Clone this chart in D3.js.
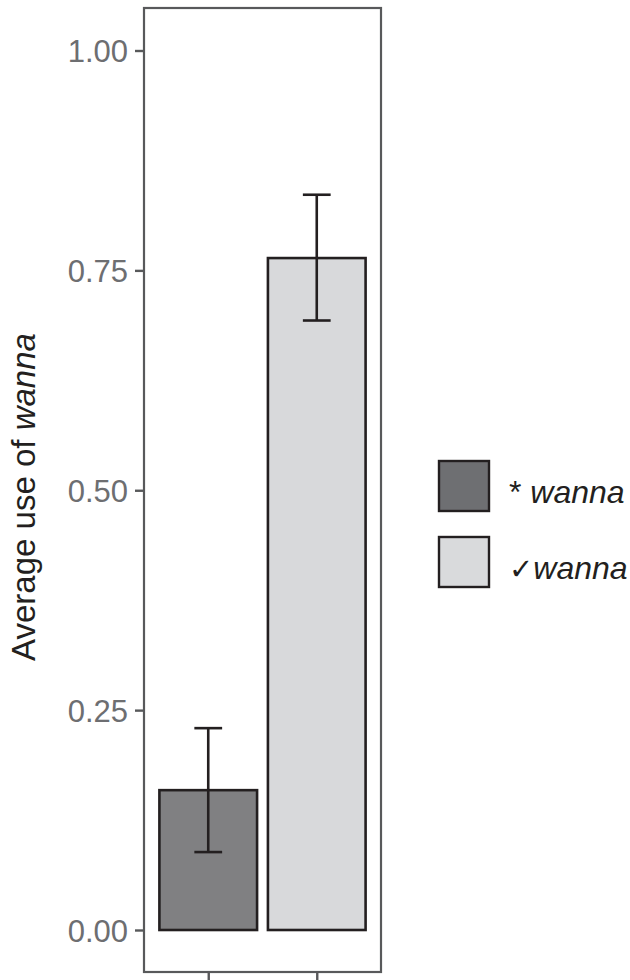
<!DOCTYPE html>
<html>
<head>
<meta charset="utf-8">
<script src="https://cdn.jsdelivr.net/npm/d3@7"></script>
<style>
  html, body { margin: 0; padding: 0; background: #fff; }
  svg { display: block; }
</style>
</head>
<body>
<svg id="chart" width="630" height="980"></svg>
<script>
// ---- data ----
const categories = ["star", "check"];
const means = [0.159, 0.764];
const lowers = [0.0886, 0.693];
const uppers = [0.2295, 0.836];
const yTicks = [0, 0.25, 0.5, 0.75, 1.0];
const legendLabels = [["* ", "wanna"], ["\u2713", "wanna"]];
const barFills = ["#808082", "#d8d9db"];
const keyFills = ["#6e6f72", "#d9dadc"];

const svg = d3.select("#chart");
const panel = { left: 144, right: 381, top: 8, bottom: 972 };

const x = d3.scalePoint().domain(categories).range([panel.left, panel.right]).padding(0.592);
const step = x.step();
const y = d3.scaleLinear().domain([0, 1]).range([930, 50.5]);

const ink = "#231f20";
const axisGrey = "#58595b";

// bars
svg.append("g").selectAll("rect").data(categories).join("rect")
  .attr("x", (d) => x(d) - step * 0.45)
  .attr("width", step * 0.9)
  .attr("y", (d, i) => y(means[i]))
  .attr("height", (d, i) => y(0) - y(means[i]))
  .attr("fill", (d, i) => barFills[i])
  .attr("stroke", ink)
  .attr("stroke-width", 2.6);

// error bars
const eg = svg.append("g").attr("stroke", ink).attr("stroke-width", 2.6).attr("fill", "none");
categories.forEach((c, i) => {
  const cx = x(c), hw = step * 0.128;
  eg.append("line").attr("x1", cx).attr("x2", cx).attr("y1", y(lowers[i])).attr("y2", y(uppers[i]));
  eg.append("line").attr("x1", cx - hw).attr("x2", cx + hw).attr("y1", y(uppers[i])).attr("y2", y(uppers[i]));
  eg.append("line").attr("x1", cx - hw).attr("x2", cx + hw).attr("y1", y(lowers[i])).attr("y2", y(lowers[i]));
});

// panel border
svg.append("rect")
  .attr("x", panel.left).attr("y", panel.top)
  .attr("width", panel.right - panel.left).attr("height", panel.bottom - panel.top)
  .attr("fill", "none").attr("stroke", axisGrey).attr("stroke-width", 2.2);

// y axis
const yAxis = d3.axisLeft(y).tickValues(yTicks).tickFormat(d3.format(".2f")).tickSize(9).tickPadding(7);
const yg = svg.append("g").attr("transform", `translate(${panel.left},0)`).call(yAxis);
yg.select(".domain").remove();
yg.selectAll(".tick line").attr("stroke", axisGrey).attr("stroke-width", 2.4);
yg.selectAll(".tick text")
  .attr("fill", "#6d6e71")
  .attr("font-family", "Liberation Sans, Arial, sans-serif")
  .attr("font-size", 31)
  .attr("dy", "0.36em");

// x axis (ticks only, no labels)
const xAxis = d3.axisBottom(x).tickSize(9).tickFormat("");
const xg = svg.append("g").attr("transform", `translate(0,${panel.bottom})`).call(xAxis);
xg.select(".domain").remove();
xg.selectAll(".tick line").attr("stroke", axisGrey).attr("stroke-width", 2.4);

// y title
const yt = svg.append("text")
  .attr("transform", `translate(35,${(panel.top + panel.bottom) / 2 + 7}) rotate(-90)`)
  .attr("text-anchor", "middle")
  .attr("font-family", "Liberation Sans, Arial, sans-serif")
  .attr("font-size", 33)
  .attr("fill", ink);
yt.append("tspan").text("Average use of ");
yt.append("tspan").attr("font-style", "italic").text("wanna");

// legend
const lg = svg.append("g");
legendLabels.forEach((lab, i) => {
  const ty = 461 + i * 76;
  lg.append("rect")
    .attr("x", 439).attr("y", ty)
    .attr("width", 50).attr("height", 50)
    .attr("fill", keyFills[i]).attr("stroke", ink).attr("stroke-width", 2.4);
  const t = lg.append("text")
    .attr("x", 509).attr("y", ty + 42)
    .attr("font-family", "Liberation Sans, Arial, sans-serif")
    .attr("font-size", 32)
    .attr("fill", ink);
  t.append("tspan").text(lab[0])
    .attr("font-family", i === 1 ? "DejaVu Sans, sans-serif" : null)
    .attr("font-weight", i === 1 ? "bold" : null)
    .attr("font-size", i === 1 ? 29 : null);
  t.append("tspan").attr("font-style", "italic").attr("font-weight", "normal").text(lab[1]);
});
</script>
</body>
</html>
